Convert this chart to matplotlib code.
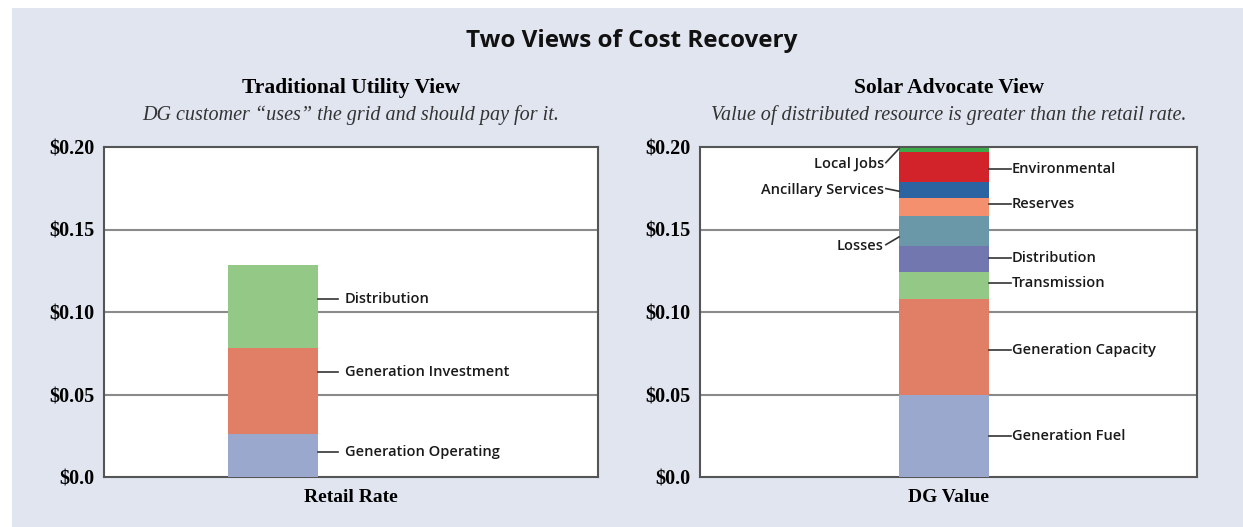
import matplotlib
matplotlib.use("Agg")
import matplotlib.pyplot as plt
from matplotlib.patches import Rectangle

# data (cost in $/kWh)
retail_labels = ["Generation Operating", "Generation Investment", "Distribution"]
retail_values = [0.0263, 0.0519, 0.0501]
retail_colors = ["#99a8cc", "#e07f65", "#93c886"]

dg_labels = ["Generation Fuel", "Generation Capacity", "Transmission", "Distribution",
             "Losses", "Reserves", "Ancillary Services", "Environmental", "Local Jobs"]
dg_values = [0.0495, 0.0586, 0.0161, 0.0158, 0.0182, 0.0111, 0.0093, 0.0184, 0.0026]
dg_colors = ["#99a8cc", "#e07f65", "#93c886", "#7377b0", "#6a98a8",
             "#f4906e", "#2b64a0", "#d2232a", "#3daa4a"]

yticks = [0.0, 0.05, 0.10, 0.15, 0.20]
ytick_labels = ["$0.0", "$0.05", "$0.10", "$0.15", "$0.20"]

# label placement: (y of text, side, y where leader hits bar)
retail_label_pos = {"Generation Operating": 0.0150, "Generation Investment": 0.0635, "Distribution": 0.1077}
dg_label_pos = {
    "Generation Fuel": (0.0247, "r", 0.0247),
    "Generation Capacity": (0.0768, "r", 0.0768),
    "Transmission": (0.1174, "r", 0.1174),
    "Distribution": (0.1326, "r", 0.1326),
    "Losses": (0.1398, "l", 0.1455),
    "Reserves": (0.1653, "r", 0.1653),
    "Ancillary Services": (0.1738, "l", 0.1732),
    "Environmental": (0.1865, "r", 0.1865),
    "Local Jobs": (0.1895, "l", 0.1990),
}

SERIF = "Liberation Serif"
SANS = "Open Sans"
BG = "#e1e5f0"

fig = plt.figure(figsize=(12.43, 5.27), dpi=100)
fig.patch.set_facecolor("white")
fig.patches.append(Rectangle((12 / 1243, 0), 1 - 12 / 1243, 1 - 8 / 527,
                             transform=fig.transFigure, facecolor=BG, edgecolor="none", zorder=-10))

fig.text(0.508, 1 - 41 / 527, "Two Views of Cost Recovery", ha="center", va="center",
         fontsize=17.5, fontweight="bold", family=SANS, color="#111111")


def setup_axes(rect, title, subtitle, xlabel):
    ax = fig.add_axes(rect)
    ax.set_facecolor("white")
    ax.set_xlim(0, 1)
    ax.set_ylim(0, 0.20)
    ax.set_xticks([])
    ax.set_yticks(yticks)
    ax.set_yticklabels(ytick_labels, family=SERIF, fontweight="bold", fontsize=14.5)
    ax.tick_params(axis="y", length=0, pad=7)
    for s in ax.spines.values():
        s.set_color("#555555")
        s.set_linewidth(1.5)
    for y in yticks[1:-1]:
        ax.axhline(y, color="#8a8a8a", lw=1.5, zorder=1)
    xc = rect[0] + rect[2] / 2
    fig.text(xc, 1 - 88 / 527, title, ha="center", va="center",
             family=SERIF, fontweight="bold", fontsize=15.5)
    fig.text(xc, 1 - 115 / 527, subtitle, ha="center", va="center",
             family=SERIF, style="italic", fontsize=14.5, color="#333333")
    ax.text(0.5, -0.062, xlabel, transform=ax.transAxes, ha="center", va="center",
            family=SERIF, fontweight="bold", fontsize=14)
    return ax


ax1 = setup_axes([104 / 1243, 50 / 527, 494 / 1243, 330 / 527], "Traditional Utility View",
                 "DG customer \u201cuses\u201d the grid and should pay for it.", "Retail Rate")
ax2 = setup_axes([700 / 1243, 50 / 527, 497 / 1243, 330 / 527], "Solar Advocate View",
                 "Value of distributed resource is greater than the retail rate.", "DG Value")

# left stacked bar
bw1, xc1 = 0.182, 0.342
bottom = 0
for lab, v, c in zip(retail_labels, retail_values, retail_colors):
    ax1.bar(xc1, v, bw1, bottom=bottom, color=c, zorder=3, linewidth=0)
    bottom += v
    ty = retail_label_pos[lab]
    ax1.plot([xc1 + bw1 / 2, 0.474], [ty, ty], color="#333333", lw=1.2, zorder=3, clip_on=False)
    ax1.text(0.488, ty, lab, ha="left", va="center", family=SANS, fontweight="semibold",
             fontsize=10.5, color="#1a1a1a")

# right stacked bar
bw2, xc2 = 0.181, 0.491
bottom = 0
for lab, v, c in zip(dg_labels, dg_values, dg_colors):
    ax2.bar(xc2, v, bw2, bottom=bottom, color=c, zorder=3, linewidth=0)
    bottom += v
    ty, side, hy = dg_label_pos[lab]
    if side == "r":
        ax2.plot([xc2 + bw2 / 2, 0.625], [hy, ty], color="#333333", lw=1.2, zorder=3, clip_on=False)
        ax2.text(0.627, ty, lab, ha="left", va="center", family=SANS, fontweight="semibold",
                 fontsize=10.5, color="#1a1a1a")
    else:
        ax2.plot([0.374, xc2 - bw2 / 2], [ty + 0.001, hy], color="#333333", lw=1.2, zorder=3, clip_on=False)
        ax2.text(0.370, ty, lab, ha="right", va="center", family=SANS, fontweight="semibold",
                 fontsize=10.5, color="#1a1a1a")

fig.savefig("out.png", dpi=100, facecolor=fig.get_facecolor())
